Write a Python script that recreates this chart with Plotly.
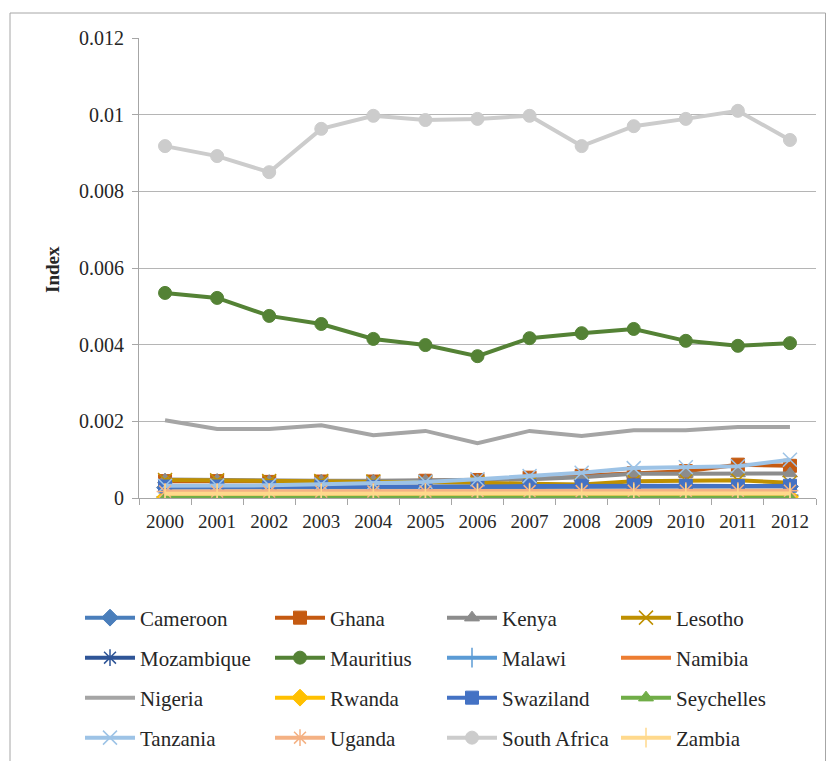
import plotly.graph_objects as go

years = ["2000", "2001", "2002", "2003", "2004", "2005", "2006", "2007", "2008", "2009", "2010", "2011", "2012"]

cameroon = [0.00027, 0.00027, 0.00026, 0.00027, 0.00027, 0.00028, 0.00028, 0.00029, 0.00029, 0.0003, 0.0003, 0.0003, 0.0003]
ghana = [0.00044, 0.00044, 0.00042, 0.00043, 0.00043, 0.00045, 0.00047, 0.00053, 0.00058, 0.00065, 0.0007, 0.00087, 0.00084]
kenya = [0.00048, 0.00047, 0.00044, 0.00045, 0.00045, 0.00046, 0.00046, 0.00049, 0.00054, 0.00063, 0.00063, 0.00064, 0.00064]
lesotho = [0.00047, 0.00046, 0.00044, 0.00044, 0.00043, 0.00041, 0.0004, 0.00037, 0.00035, 0.00044, 0.00045, 0.00046, 0.0004]
mozambique = [0.00003, 0.00003, 0.00003, 0.00004, 0.00004, 0.00004, 0.00005, 0.00005, 0.00005, 0.00006, 0.00006, 0.00006, 0.00007]
mauritius = [0.00535, 0.00522, 0.00475, 0.00454, 0.00415, 0.00399, 0.0037, 0.00417, 0.0043, 0.00441, 0.0041, 0.00397, 0.00404]
malawi = [0.00005, 0.00005, 0.00005, 0.00005, 0.00005, 0.00006, 0.00006, 0.00006, 0.00007, 0.00007, 0.00007, 0.00007, 0.00008]
namibia = [0.0001, 0.0001, 0.0001, 0.0001, 0.00009, 0.00009, 0.00009, 0.00009, 0.00009, 0.0001, 0.0001, 0.0001, 0.0001]
nigeria = [0.00203, 0.0018, 0.0018, 0.0019, 0.00164, 0.00175, 0.00143, 0.00175, 0.00162, 0.00177, 0.00177, 0.00185, 0.00185]
rwanda = [0.00002, 0.00002, 0.00002, 0.00002, 0.00002, 0.00002, 0.00002, 0.00003, 0.00003, 0.00003, 0.00003, 0.00003, 0.00003]
swaziland = [0.0003, 0.0003, 0.00028, 0.00029, 0.00029, 0.0003, 0.0003, 0.00031, 0.00032, 0.00033, 0.00032, 0.00031, 0.00032]
seychelles = [0.00001, 0.00001, 0.00001, 0.00001, 0.00001, 0.00001, 0.00001, 0.00001, 0.00001, 0.00001, 0.00001, 0.00001, 0.00001]
tanzania = [0.00032, 0.00032, 0.00033, 0.00036, 0.00038, 0.00042, 0.00049, 0.00057, 0.00066, 0.00078, 0.0008, 0.00083, 0.001]
uganda = [0.00017, 0.00017, 0.00017, 0.00017, 0.00017, 0.00017, 0.00018, 0.00018, 0.00018, 0.00019, 0.00019, 0.00019, 0.00019]
south_africa = [0.00918, 0.00892, 0.0085, 0.00963, 0.00997, 0.00986, 0.00989, 0.00997, 0.00918, 0.0097, 0.00989, 0.0101, 0.00934]
zambia = [0.00011, 0.00011, 0.00011, 0.00011, 0.00011, 0.00011, 0.00011, 0.00012, 0.00012, 0.00012, 0.00012, 0.00012, 0.00012]

series = [
    ("Cameroon", cameroon, "#4A7EBB", "diamond", False),
    ("Ghana", ghana, "#C55A11", "square", False),
    ("Kenya", kenya, "#8C8C8C", "triangle-up", False),
    ("Lesotho", lesotho, "#BF9000", "x-thin", True),
    ("Mozambique", mozambique, "#2F5597", "asterisk", True),
    ("Mauritius", mauritius, "#548235", "circle", False),
    ("Malawi", malawi, "#5B9BD5", "line-ns", True),
    ("Namibia", namibia, "#ED7D31", None, False),
    ("Nigeria", nigeria, "#A5A5A5", None, False),
    ("Rwanda", rwanda, "#FFC000", "diamond", False),
    ("Swaziland", swaziland, "#4472C4", "square", False),
    ("Seychelles", seychelles, "#70AD47", "triangle-up", False),
    ("Tanzania", tanzania, "#9DC3E6", "x-thin", True),
    ("Uganda", uganda, "#F4B183", "asterisk", True),
    ("South Africa", south_africa, "#CCCCCC", "circle", False),
    ("Zambia", zambia, "#FFD98C", "line-ns", True),
]

W, H = 826, 761
L, R, T, B = 139, 816, 38, 498
FONT = "Liberation Serif"
TXT = "#262626"

col_x = [80, 270, 442, 616]
row_y = [618, 658, 698, 738]

fig = go.Figure()
legends = {}
for i, (name, vals, color, sym, open_sym) in enumerate(series):
    lname = "legend" if i == 0 else f"legend{i+1}"
    if sym is None:
        mode = "lines"
        marker = None
    elif open_sym:
        mode = "lines+markers"
        marker = dict(symbol=sym, size=14, color=color, line=dict(color=color, width=1.5))
    else:
        mode = "lines+markers"
        marker = dict(symbol=sym, size=13, color=color, line=dict(color=color, width=1))
    fig.add_trace(go.Scatter(
        x=years, y=vals, name=name, mode=mode,
        line=dict(color=color, width=4),
        marker=marker,
        legend=lname,
    ))
    r, c = divmod(i, 4)
    legends[lname] = dict(
        xref="container", yref="container",
        x=col_x[c] / W, y=1 - row_y[r] / H,
        xanchor="left", yanchor="middle",
        bgcolor="rgba(0,0,0,0)", borderwidth=0,
        itemwidth=50,
        font=dict(family=FONT, size=21, color=TXT),
    )

fig.update_layout(
    width=W, height=H,
    margin=dict(l=L, r=W - R, t=T, b=H - B, autoexpand=False),
    paper_bgcolor="white", plot_bgcolor="white",
    font=dict(family=FONT, size=18, color=TXT),
    showlegend=True,
    **legends,
)

fig.update_xaxes(
    type="category", showgrid=False, automargin=False,
    showline=True, linecolor="#A6A6A6", linewidth=1,
    ticks="outside", tickson="boundaries", ticklen=6, tickcolor="#A6A6A6",
    tickfont=dict(family=FONT, size=19, color=TXT),
    range=[-0.5, len(years) - 0.5], tickangle=0, ticklabelstandoff=6,
)
fig.update_yaxes(
    range=[0, 0.012], dtick=0.002, tick0=0, automargin=False,
    showgrid=True, gridcolor="#B5B5B5", gridwidth=1,
    showline=True, linecolor="#A6A6A6", linewidth=1,
    ticks="outside", ticklen=6, tickcolor="#A6A6A6",
    tickfont=dict(family=FONT, size=20, color=TXT),
    zeroline=False, ticklabelstandoff=4,
)

fig.add_annotation(
    text="<b>Index</b>", textangle=-90,
    xref="paper", yref="paper",
    x=(52 - L) / (R - L), y=(B - 270) / (B - T),
    xanchor="center", yanchor="middle", showarrow=False,
    font=dict(family=FONT, size=19, color=TXT),
)

# chart area border
fig.add_shape(type="rect", xref="paper", yref="paper",
              x0=(10 - L) / (R - L), x1=(825.5 - L) / (R - L),
              y0=(B - 780) / (B - T), y1=(B - 13) / (B - T),
              line=dict(color="#A6A6A6", width=1), fillcolor="rgba(0,0,0,0)", layer="below")

fig.write_html("out.html")
